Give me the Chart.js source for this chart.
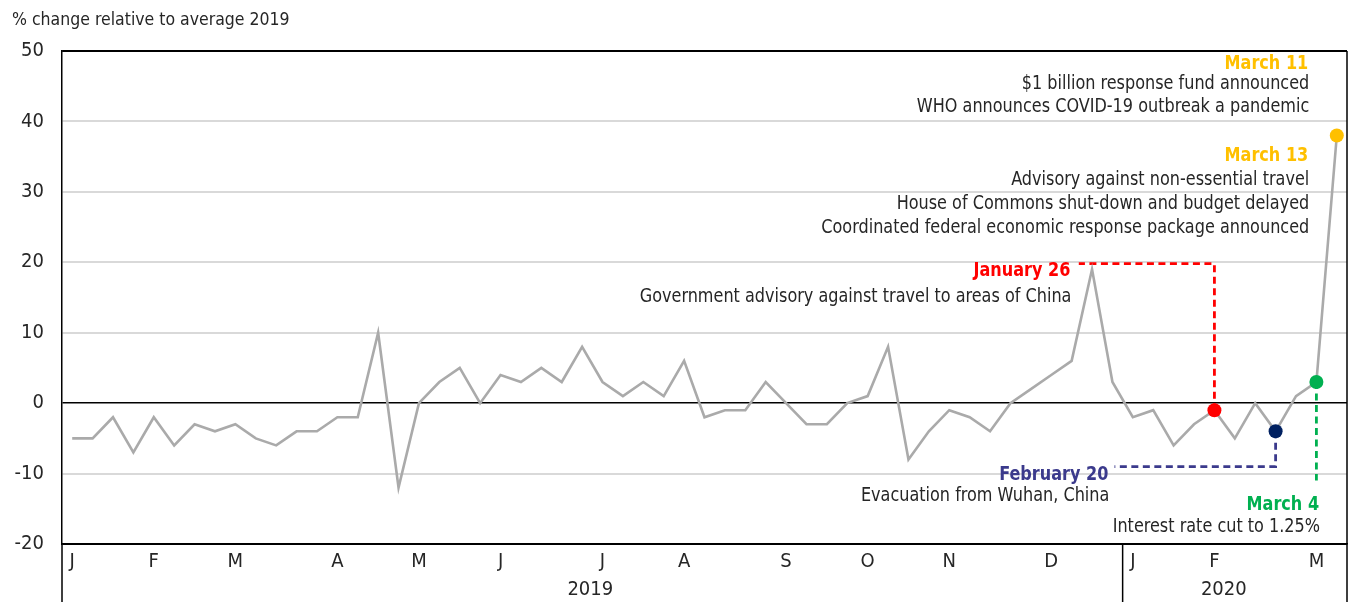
<!DOCTYPE html>
<html>
<head>
<meta charset="utf-8">
<script src="https://cdn.jsdelivr.net/npm/chart.js@4.4.1/dist/chart.umd.min.js"></script>
<style>
  html, body { margin: 0; padding: 0; background: #ffffff; }
  #wrap { width: 1351px; height: 602px; position: relative; }
</style>
</head>
<body>
<div id="wrap"><canvas id="chart" width="1351" height="602"></canvas></div>
<script>
// Weekly categories: month initial shown on the first week of each month
const monthTicks = [
  'J','','','','F','','','','M','','','','','A','','','','M','','','',
  'J','','','','','J','','','','A','','','','','S','','','','O','','',
  '','N','','','','','D','','','','J','','','','F','','','','','M',''
];

// % change relative to average 2019, one value per week
const weeklyChange = [
  -5, -5, -2, -7, -2, -6, -3, -4, -3, -5, -6, -4, -4, -2, -2, 10, -12, 0, 3, 5, 0,
   4,  3,  5,  3,  8,  3,  1,  3,  1,  6, -2, -1, -1,  3,  0, -3, -3,  0, 1, 8,
  -8, -4, -1, -2, -4,  0,  2,  4,  6, 19,  3, -2, -1, -6, -3, -1, -5,  0, -4, 1, 3, 38
];

// Year grouping under the month row
const yearLabels = ['2019', '2020'];
const yearFirstWeek = [0, 52];
const yearLastWeek = [51, 62];

// Highlighted weeks and their marker colours
const markerWeeks = [56, 59, 61, 62];
const markerColors = ['#ff0000', '#002060', '#00b050', '#ffc000'];

// Event call-outs (anchor = right edge / title line, in axis units)
const callouts = [
  {
    title: 'January 26', titleColor: '#ff0000', lineColor: '#ff0000',
    lines: ['Government advisory against travel to areas of China'],
    anchor: { index: 48.94, value: 18.8 }, gaps: [26],
    leader: [[56, -1], [56, 19.8], [49.35, 19.8]]
  },
  {
    title: 'February 20', titleColor: '#3b3a8c', lineColor: '#3b3a8c',
    lines: ['Evacuation from Wuhan, China'],
    anchor: { index: 50.8, value: -10.2 }, gaps: [21],
    leader: [[59, -4], [59, -9], [51.1, -9]]
  },
  {
    title: 'March 4', titleColor: '#00b050', lineColor: '#00b050',
    lines: ['Interest rate cut to 1.25%'],
    anchor: { index: 61.13, value: -14.4 }, gaps: [22],
    leader: [[61, 3], [61, -11]]
  },
  {
    title: 'March 11', titleColor: '#ffc000',
    lines: ['$1 billion response fund announced', 'WHO announces COVID-19 outbreak a pandemic'],
    anchor: { index: 60.6, value: 48.2 }, gaps: [20, 23]
  },
  {
    title: 'March 13', titleColor: '#ffc000',
    lines: ['Advisory against non-essential travel', 'House of Commons shut-down and budget delayed',
            'Coordinated federal economic response package announced'],
    anchor: { index: 60.6, value: 35.1 }, gaps: [24, 24, 24]
  }
];

const FONT = "'DejaVu Sans Condensed', 'DejaVu Sans', sans-serif";
const TEXT = '#262626';
const NARROW = 0.893;   // horizontal squeeze for call-out lettering

const pointRadius = weeklyChange.map((v, i) => markerWeeks.includes(i) ? 7 : 0);
const pointColors = weeklyChange.map((v, i) => {
  const k = markerWeeks.indexOf(i);
  return k >= 0 ? markerColors[k] : '#a6a6a6';
});

function narrowText(ctx, text, rx, cy) {
  ctx.save();
  ctx.translate(rx, cy);
  ctx.scale(NARROW, 1);
  ctx.fillText(text, 0, 0);
  ctx.restore();
}

const framePlugin = {
  id: 'frame',
  beforeDatasetsDraw(chart) {
    const { ctx, scales: { x, y } } = chart;
    ctx.save();
    ctx.lineWidth = 2.8;
    ctx.setLineDash([7, 4.5]);
    callouts.forEach(c => {
      if (!c.leader) return;
      ctx.strokeStyle = c.lineColor;
      ctx.beginPath();
      c.leader.forEach((p, k) => {
        const px = x.getPixelForValue(p[0]);
        const py = y.getPixelForValue(p[1]);
        if (k === 0) ctx.moveTo(px, py); else ctx.lineTo(px, py);
      });
      ctx.stroke();
    });
    ctx.restore();
  },
  afterDraw(chart) {
    const { ctx, chartArea: a, scales: { x, y } } = chart;
    const H = chart.height;
    ctx.save();
    // frame lines and year dividers
    ctx.strokeStyle = '#000';
    ctx.lineWidth = 1.5;
    ctx.beginPath();
    ctx.moveTo(a.left, a.top); ctx.lineTo(a.right, a.top);
    ctx.moveTo(a.right, a.top); ctx.lineTo(a.right, H);
    ctx.moveTo(a.left, a.bottom); ctx.lineTo(a.left, H);
    for (let k = 1; k < yearFirstWeek.length; k++) {
      const dx = (x.getPixelForValue(yearLastWeek[k - 1]) + x.getPixelForValue(yearFirstWeek[k])) / 2;
      ctx.moveTo(dx, a.bottom); ctx.lineTo(dx, H);
    }
    ctx.stroke();

    // year labels
    ctx.fillStyle = TEXT;
    ctx.font = '20px ' + FONT;
    ctx.textAlign = 'center';
    ctx.textBaseline = 'middle';
    yearLabels.forEach((lab, k) => {
      const cx = (x.getPixelForValue(yearFirstWeek[k]) + x.getPixelForValue(yearLastWeek[k])) / 2;
      ctx.fillText(lab, cx - (k === 1 ? 11 : 2), 590);
    });

    // axis title
    ctx.textAlign = 'left';
    ctx.font = '17.5px ' + FONT;
    ctx.fillText('% change relative to average 2019', 12, 20);

    // call-out texts
    ctx.textAlign = 'right';
    callouts.forEach(c => {
      const rx = x.getPixelForValue(c.anchor.index);
      let cy = y.getPixelForValue(c.anchor.value);
      ctx.font = 'bold 20px ' + FONT;
      ctx.fillStyle = c.titleColor;
      narrowText(ctx, c.title, rx, cy);
      ctx.font = '20px ' + FONT;
      ctx.fillStyle = TEXT;
      c.lines.forEach((ln, k) => {
        cy += c.gaps[k];
        narrowText(ctx, ln, rx + 1, cy);
      });
    });
    ctx.restore();
  }
};

new Chart(document.getElementById('chart'), {
  type: 'line',
  data: {
    labels: monthTicks,
    datasets: [{
      data: weeklyChange,
      borderColor: '#aaaaaa',
      borderWidth: 2.6,
      tension: 0,
      pointRadius: pointRadius,
      pointHoverRadius: pointRadius,
      pointBorderWidth: 0,
      pointBackgroundColor: pointColors,
      pointBorderColor: pointColors
    }]
  },
  options: {
    responsive: false,
    animation: false,
    devicePixelRatio: 1,
    layout: { autoPadding: false, padding: { top: 51, right: 4, left: 0, bottom: 0 } },
    plugins: { legend: { display: false }, tooltip: { enabled: false } },
    scales: {
      x: {
        offset: true,
        grid: { display: false, drawTicks: true, tickLength: 6 },
        border: { display: true, color: '#000', width: 1.5 },
        ticks: {
          autoSkip: false, maxRotation: 0, padding: 0,
          color: TEXT, font: { family: FONT, size: 20 }
        },
        afterFit(s) { s.height = 58; }
      },
      y: {
        min: -20, max: 50,
        grid: {
          drawTicks: false,
          color: c => (c.tick.value === 0 || c.tick.value === -20 || c.tick.value === 50) ? '#000' : '#d9d9d9',
          lineWidth: c => (c.tick.value === 0 ? 1.5 : 2)
        },
        border: { display: true, color: '#000', width: 1.5 },
        ticks: {
          stepSize: 10, padding: 18,
          color: TEXT, font: { family: FONT, size: 20 }
        },
        afterFit(s) { s.width = 62; }
      }
    }
  },
  plugins: [framePlugin]
});
</script>
</body>
</html>
